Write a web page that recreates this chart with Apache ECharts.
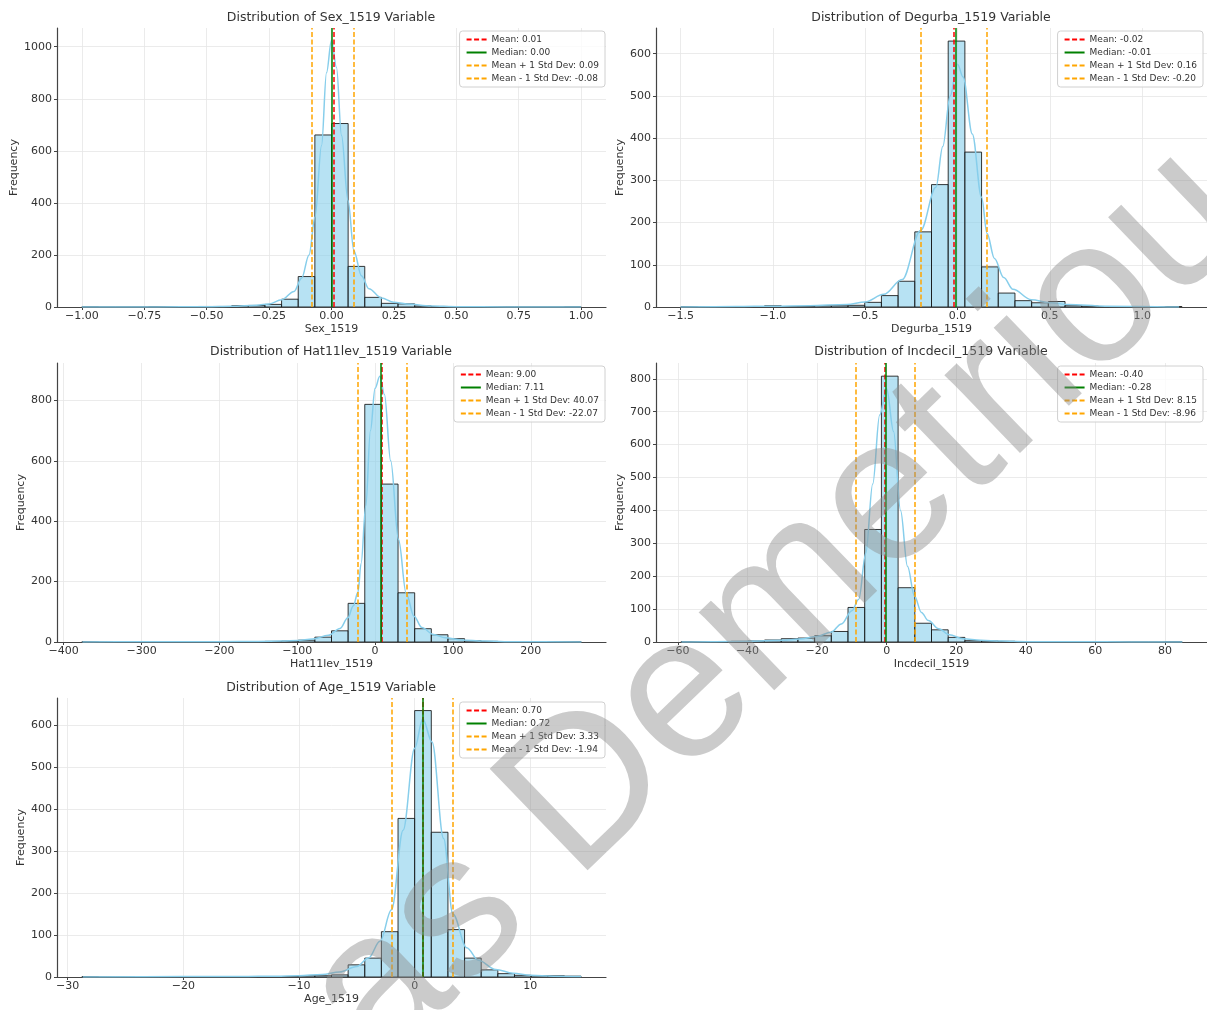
<!DOCTYPE html>
<html><head><meta charset="utf-8">
<script src="https://cdn.jsdelivr.net/npm/echarts@6/dist/echarts.min.js"></script>
<style>html,body{margin:0;padding:0;background:#fff}#chart{width:1207px;height:1010px}</style>
</head><body><div id="chart"></div>
<script>
// ---------- Sex_1519 ----------
const sexRange = [-1.0, 1.0];
const sexCounts = [1,0,0,0,1,1,1,2,2,5,6,10,30,117,661,705,156,37,14,12,4,2,1,1,0,0,0,0,0,1];
const sexKdeX = [-1.0,-0.7,-0.5,-0.4,-0.3,-0.25,-0.2,-0.15,-0.12,-0.09,-0.066,-0.04,-0.02,0.0,0.02,0.04,0.066,0.09,0.12,0.15,0.2,0.25,0.3,0.4,0.5,0.7,1.0];
const sexKdeY = [0,0,1,3,7,12,28,60,110,200,346,620,900,1025,920,660,410,215,120,70,35,18,12,4,1,0,0];
const sexStats = [0.01, 0.00, 0.09, -0.08];
const sexXLim = [-1.1, 1.1];
const sexYMax = 1072;
const sexXTicks = [-1,-0.75,-0.5,-0.25,0,0.25,0.5,0.75,1];
const sexXTickLabels = ['\u22121.00','\u22120.75','\u22120.50','\u22120.25','0.00','0.25','0.50','0.75','1.00'];
const sexYTicks = [0,200,400,600,800,1000];

// ---------- Degurba_1519 ----------
const degRange = [-1.497, 1.215];
const degCounts = [1,0,0,1,1,3,1,1,3,3,4,11,27,61,178,290,630,367,95,33,15,10,13,3,2,1,1,0,0,1];
const degKdeX = [-1.5,-1.2,-1.0,-0.8,-0.6,-0.5,-0.4,-0.3,-0.2,-0.117,-0.08,-0.04,0.0,0.03,0.08,0.13,0.16,0.2,0.25,0.3,0.4,0.5,0.6,0.8,1.2];
const degKdeY = [0,1,2,3,6,12,30,65,181,284,380,500,575,545,410,260,174,115,70,42,17,10,6,2,0];
const degStats = [-0.02, -0.01, 0.16, -0.20];
const degXLim = [-1.633, 1.351];
const degYMax = 661;
const degXTicks = [-1.5,-1.0,-0.5,0,0.5,1.0];
const degXTickLabels = ['\u22121.5','\u22121.0','\u22120.5','0.0','0.5','1.0'];
const degYTicks = [0,100,200,300,400,500,600];

// ---------- Hat11lev_1519 ----------
const hatRange = [-376.5, 264.5];
const hatCounts = [1,0,0,0,0,0,1,1,1,1,1,2,3,6,16,37,128,787,523,163,44,24,11,4,2,1,1,0,1,1];
const hatKdeX = [-376,-300,-200,-150,-120,-100,-80,-60,-45,-35,-28,-22,-18,-12,-6,0,6,12,20,30,40,50,60,75,90,110,140,180,265];
const hatKdeY = [0,1,1,2,3,5,10,22,45,80,120,165,260,450,700,840,880,820,600,340,160,85,48,25,14,7,3,1,0];
const hatStats = [9.00, 7.11, 40.07, -22.07];
const hatXLim = [-408.55, 296.55];
const hatYMax = 924;
const hatXTicks = [-400,-300,-200,-100,0,100,200];
const hatXTickLabels = ['\u2212400','\u2212300','\u2212200','\u2212100','0','100','200'];
const hatYTicks = [0,200,400,600,800];

// ---------- Incdecil_1519 ----------
const incRange = [-59.1, 84.9];
const incCounts = [1,1,1,2,3,6,10,12,19,32,105,342,808,165,57,37,14,4,3,2,1,1,0,0,0,0,0,0,0,1];
const incKdeX = [-59,-50,-40,-30,-25,-20,-16,-13,-10,-8,-6,-4,-2,0,2,4,6,8,10,12,15,18,22,27,33,40,55,70,85];
const incKdeY = [0,1,2,5,9,17,30,55,95,130,270,480,690,770,640,400,230,140,90,65,40,22,10,5,3,1,1,0,0];
const incStats = [-0.40, -0.28, 8.15, -8.96];
const incXLim = [-66.3, 92.1];
const incYMax = 848;
const incXTicks = [-60,-40,-20,0,20,40,60,80];
const incXTickLabels = ['\u221260','\u221240','\u221220','0','20','40','60','80'];
const incYTicks = [0,100,200,300,400,500,600,700,800];

// ---------- Age_1519 ----------
const ageRange = [-28.76, 14.38];
const ageCounts = [1,0,0,0,0,0,1,0,1,1,1,1,1,3,3,5,29,45,108,378,635,345,113,45,17,8,4,3,3,2];
const ageKdeX = [-28.7,-20,-15,-12,-10,-8,-6.5,-5,-4,-3,-2,-1,0,0.7,1.5,2.5,3.3,4.5,5.5,7,8.5,10,12,14.4];
const ageKdeY = [0,1,1,2,3,6,12,25,45,85,160,350,545,615,560,330,150,70,40,18,9,4,2,1];
const ageStats = [0.70, 0.72, 3.33, -1.94];
const ageXLim = [-30.92, 16.54];
const ageYMax = 665;
const ageXTicks = [-30,-20,-10,0,10];
const ageXTickLabels = ['\u221230','\u221220','\u221210','0','10'];
const ageYTicks = [0,100,200,300,400,500,600];

const BIN_COUNT = 30;
const FONT = 'DejaVu Sans';

const panels = [
  {name:'Sex_1519', range:sexRange, counts:sexCounts, kx:sexKdeX, ky:sexKdeY, stats:sexStats, xlim:sexXLim, ymax:sexYMax, xt:sexXTicks, xl:sexXTickLabels, yt:sexYTicks,
   grid:{left:57, top:28, width:549, height:279}, titleX:331, titleTop:11, legend:{right:602, top:31}, yGap:37},
  {name:'Degurba_1519', range:degRange, counts:degCounts, kx:degKdeX, ky:degKdeY, stats:degStats, xlim:degXLim, ymax:degYMax, xt:degXTicks, xl:degXTickLabels, yt:degYTicks,
   grid:{left:656, top:28, width:551, height:279}, titleX:931, titleTop:11, legend:{right:4, top:31}, yGap:28},
  {name:'Hat11lev_1519', range:hatRange, counts:hatCounts, kx:hatKdeX, ky:hatKdeY, stats:hatStats, xlim:hatXLim, ymax:hatYMax, xt:hatXTicks, xl:hatXTickLabels, yt:hatYTicks,
   grid:{left:57, top:363, width:549, height:279}, titleX:331, titleTop:345, legend:{right:602, top:366}, yGap:29},
  {name:'Incdecil_1519', range:incRange, counts:incCounts, kx:incKdeX, ky:incKdeY, stats:incStats, xlim:incXLim, ymax:incYMax, xt:incXTicks, xl:incXTickLabels, yt:incYTicks,
   grid:{left:656, top:363, width:551, height:279}, titleX:931, titleTop:345, legend:{right:4, top:366}, yGap:28},
  {name:'Age_1519', range:ageRange, counts:ageCounts, kx:ageKdeX, ky:ageKdeY, stats:ageStats, xlim:ageXLim, ymax:ageYMax, xt:ageXTicks, xl:ageXTickLabels, yt:ageYTicks,
   grid:{left:57, top:698, width:549, height:279}, titleX:331, titleTop:681, legend:{right:602, top:702}, yGap:29}
];

const statStyles = [
  {prefix:'Mean: ', color:'#ff0000', type:[5,2.5]},
  {prefix:'Median: ', color:'#008000', type:'solid'},
  {prefix:'Mean + 1 Std Dev: ', color:'#ffa500', type:[5,2.5]},
  {prefix:'Mean - 1 Std Dev: ', color:'#ffa500', type:[5,2.5]}
];

function fmtFrom(ticks, labels) {
  return function (v) {
    const i = ticks.findIndex(t => Math.abs(t - v) < 1e-6);
    return i >= 0 ? labels[i] : '';
  };
}

const option = {
  animation: false,
  backgroundColor: '#ffffff',
  textStyle: {fontFamily: FONT},
  title: [], grid: [], xAxis: [], yAxis: [], legend: [], series: [],
  graphic: [{
    type: 'text', x: 778, y: 608, rotation: 44 * Math.PI / 180, z: 100, silent: true,
    style: {text: 'as Demetriou', fontSize: 205, fontFamily: 'Liberation Sans', fill: 'rgba(140,140,140,0.45)',
            align: 'center', verticalAlign: 'middle', textAlign: 'center', textVerticalAlign: 'middle'}
  }]
};

panels.forEach((p, i) => {
  option.title.push({
    text: 'Distribution of ' + p.name + ' Variable', left: p.titleX, top: p.titleTop, textAlign: 'center', padding: 0,
    textStyle: {fontSize: 12.5, fontWeight: 'normal', color: '#333', fontFamily: FONT}
  });
  option.grid.push(Object.assign({containLabel: false}, p.grid));
  option.xAxis.push({
    type: 'value', gridIndex: i, min: p.xlim[0], max: p.xlim[1],
    name: p.name, nameLocation: 'middle', nameGap: 17,
    nameTextStyle: {fontSize: 11, color: '#333', fontFamily: FONT},
    axisLine: {show: true, onZero: false, lineStyle: {color: '#444', width: 1.2}},
    axisTick: {show: true, length: 3, lineStyle: {color: '#444'}, customValues: p.xt},
    axisLabel: {customValues: p.xt, formatter: fmtFrom(p.xt, p.xl), fontSize: 11, color: '#333', margin: 4, fontFamily: FONT},
    splitLine: {show: true, lineStyle: {color: '#e6e6e6', width: 0.8}}
  });
  option.yAxis.push({
    type: 'value', gridIndex: i, min: 0, max: p.ymax,
    name: 'Frequency', nameLocation: 'middle', nameGap: p.yGap,
    nameTextStyle: {fontSize: 11, color: '#333', fontFamily: FONT},
    axisLine: {show: true, onZero: false, lineStyle: {color: '#444', width: 1.2}},
    axisTick: {show: true, length: 3, lineStyle: {color: '#444'}, customValues: p.yt},
    axisLabel: {customValues: p.yt, formatter: v => String(Math.round(v)), fontSize: 11, color: '#333', margin: 5, fontFamily: FONT},
    splitLine: {show: true, lineStyle: {color: '#e6e6e6', width: 0.8}}
  });

  const w = (p.range[1] - p.range[0]) / BIN_COUNT;
  const histData = p.counts.map((c, k) => [p.range[0] + k * w, p.range[0] + (k + 1) * w, c]);
  option.series.push({
    type: 'custom', xAxisIndex: i, yAxisIndex: i, silent: true, z: 2, clip: true,
    encode: {x: [0, 1], y: 2},
    data: histData,
    renderItem: function (params, api) {
      const p0 = api.coord([api.value(0), 0]);
      const p1 = api.coord([api.value(1), api.value(2)]);
      return {type: 'rect', shape: {x: p0[0], y: p1[1], width: p1[0] - p0[0], height: p0[1] - p1[1]},
              style: {fill: 'rgba(135,206,235,0.6)', stroke: 'rgba(20,20,20,0.85)', lineWidth: 1}};
    }
  });
  option.series.push({
    type: 'line', xAxisIndex: i, yAxisIndex: i, silent: true, z: 3,
    data: p.kx.map((x, k) => [x, p.ky[k]]),
    smooth: 0.35, smoothMonotone: 'x', symbol: 'none',
    lineStyle: {color: '#87ceeb', width: 1.5}
  });
  const names = [];
  p.stats.forEach((v, k) => {
    const st = statStyles[k];
    const nm = st.prefix + v.toFixed(2);
    names.push(nm);
    option.series.push({
      type: 'line', name: nm, xAxisIndex: i, yAxisIndex: i, data: [], symbol: 'none', z: 4 + k,
      lineStyle: {color: st.color, width: 1.5, type: st.type},
      itemStyle: {color: st.color},
      markLine: {silent: true, symbol: ['none', 'none'], label: {show: false},
                 lineStyle: {color: st.color, width: 1.5, type: st.type},
                 emphasis: {disabled: true},
                 data: [{xAxis: v}]}
    });
  });
  option.legend.push({
    data: names, orient: 'vertical', right: p.legend.right, top: p.legend.top,
    itemWidth: 20, itemHeight: 10, itemGap: 4, padding: [4, 6, 4, 6],
    itemStyle: {opacity: 0},
    backgroundColor: 'rgba(255,255,255,0.8)', borderColor: '#d0d0d0', borderWidth: 1, borderRadius: 3,
    textStyle: {fontSize: 9, color: '#333', fontFamily: FONT}, selectedMode: false
  });
});

const chart = echarts.init(document.getElementById('chart'), null, {renderer: 'canvas'});
chart.setOption(option);
</script></body></html>
